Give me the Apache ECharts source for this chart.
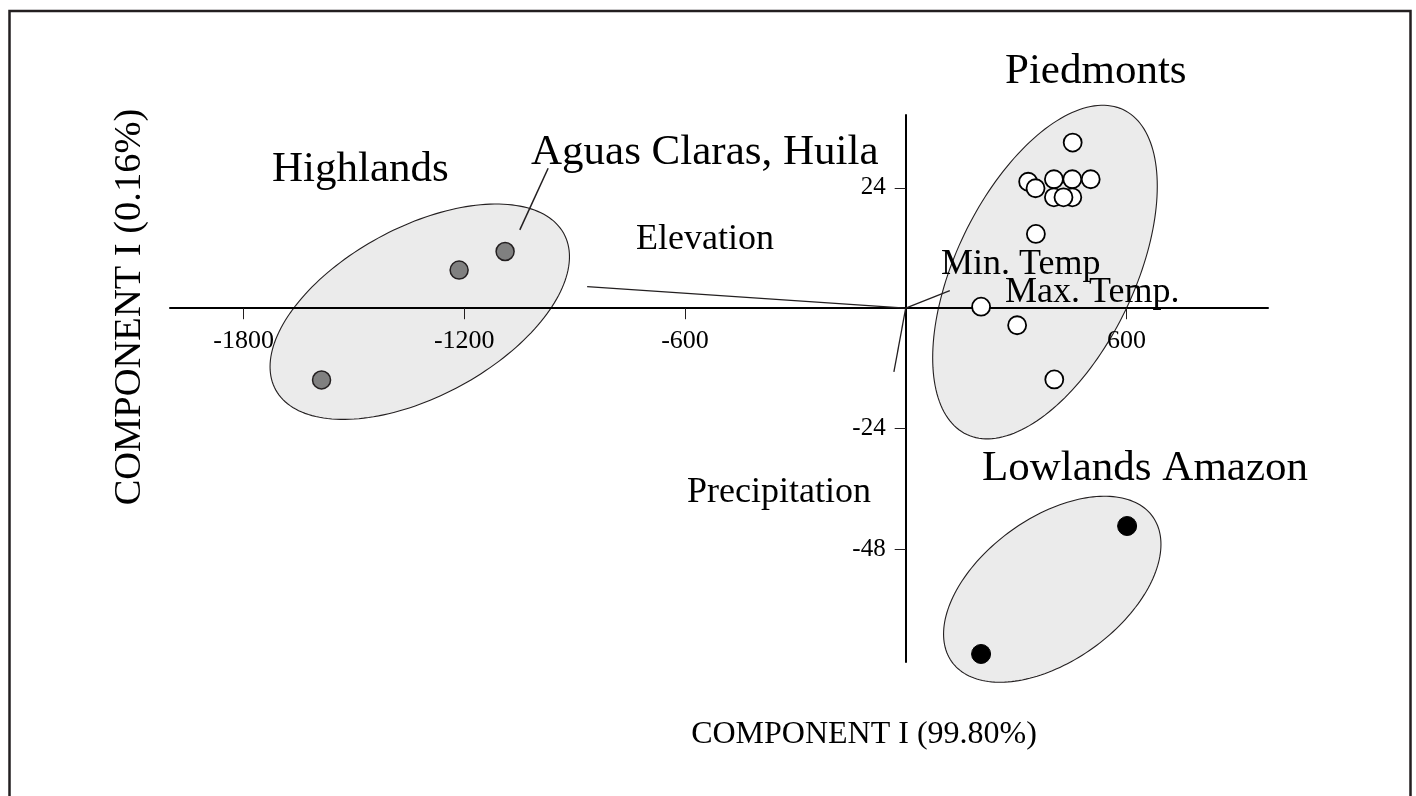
<!DOCTYPE html>
<html>
<head>
<meta charset="utf-8">
<script src="https://cdn.jsdelivr.net/npm/echarts@6/dist/echarts.min.js"></script>
<style>
html,body{margin:0;padding:0;background:#fff;}
#chart{width:1416px;height:796px;}
</style>
</head>
<body>
<div id="chart"></div>
<script>
// ---- data (PCA scores) ----
const xTicks = [-1800, -1200, -600, 600];
const yTicks = [24, -24, -48];
const highlands = [[-1588, -14.3], [-1214, 7.6], [-1089, 11.3]];
const piedmonts = [[454, 33.0], [333, 25.2], [353, 23.9], [403, 25.7], [453, 25.7], [503, 25.7],
                   [403, 22.1], [453, 22.1], [429, 22.1], [354, 14.8], [205, 0.3], [303, -3.4], [404, -14.2]];
const lowlands = [[602, -43.4], [205, -68.9]];
// group ellipses: [centerX, centerY, conjugate A (x, y), conjugate B (y)]
const ellipses = [[-1321, -0.7, 407, 10.96, 18.45], [378.7, 7.2, 305.3, 17.1, 28.5], [398.5, -56.0, 295.5, 8.93, 16.24]];
// biplot vectors from origin
const vectorNames = ['Elevation', 'Min. Temp', 'Precipitation'];
const vectorEnds = [[-866, 4.3], [120, 3.5], [-32, -12.7]];
const leader = [[-1049, 15.6], [-972, 27.9]];

const FONT = '"Liberation Serif", "Times New Roman", serif';
const INK = '#231f20';

const X_MIN = -2000, X_MAX = 985, Y_MIN = -70.5, Y_MAX = 38.5;
const G_LEFT = 170, G_RIGHT = 148, G_TOP = 115, G_BOTTOM = 134;
const W = 1416, H = 796;
const plotW = W - G_LEFT - G_RIGHT, plotH = H - G_TOP - G_BOTTOM;
// shift the axes so they cross at the origin
const xAxisOffset = -(plotH * (0 - Y_MIN) / (Y_MAX - Y_MIN));
const yAxisOffset = -(plotW * (0 - X_MIN) / (X_MAX - X_MIN));

const chart = echarts.init(document.getElementById('chart'), null, {renderer: 'canvas'});

const lineSeries = vectorEnds.map((end, i) => ({
  type: 'line', name: vectorNames[i], data: [[0, 0], end], symbol: 'none', silent: true, clip: false, z: 6,
  lineStyle: {color: INK, width: 1.3}
}));
lineSeries.push({
  type: 'line', name: 'leader', data: leader, symbol: 'none', silent: true, clip: false, z: 6,
  lineStyle: {color: INK, width: 1.5}
});

function text(str, x, y, size, align, rotation) {
  return {
    type: 'text', x: x, y: y, rotation: rotation || 0, z: 100,
    style: {text: str, fill: '#000', font: size + 'px ' + FONT, align: align || 'left', verticalAlign: 'middle'}
  };
}

chart.setOption({
  animation: false,
  backgroundColor: '#fff',
  grid: {left: G_LEFT, right: G_RIGHT, top: G_TOP, bottom: G_BOTTOM, containLabel: false, outerBoundsMode: 'none'},
  xAxis: {
    type: 'value', min: X_MIN, max: X_MAX, z: 5, position: 'bottom', offset: xAxisOffset,
    splitLine: {show: false},
    axisLine: {onZero: false, lineStyle: {color: '#000', width: 2}},
    axisTick: {show: true, length: 11, customValues: xTicks, lineStyle: {color: INK, width: 1}},
    axisLabel: {customValues: xTicks, margin: 20, color: '#000', fontFamily: FONT, fontSize: 26,
      formatter: v => String(v)}
  },
  yAxis: {
    type: 'value', min: Y_MIN, max: Y_MAX, z: 5, position: 'left', offset: yAxisOffset,
    splitLine: {show: false},
    axisLine: {onZero: false, lineStyle: {color: '#000', width: 2}},
    axisTick: {show: true, length: 11, customValues: yTicks, lineStyle: {color: INK, width: 1}},
    axisLabel: {customValues: yTicks, margin: 20, color: '#000', fontFamily: FONT, fontSize: 25,
      formatter: v => String(v)}
  },
  series: [
    {
      type: 'custom', name: 'groups', z: 1, clip: false, silent: true,
      data: ellipses,
      renderItem: function (params, api) {
        const cx = api.value(0), cy = api.value(1), ax = api.value(2), ay = api.value(3), by = api.value(4);
        const pts = [];
        for (let k = 0; k < 180; k++) {
          const t = k / 180 * Math.PI * 2;
          pts.push(api.coord([cx + ax * Math.cos(t), cy + ay * Math.cos(t) + by * Math.sin(t)]));
        }
        return {type: 'polygon', shape: {points: pts}, style: {fill: '#ebebeb', stroke: INK, lineWidth: 1.1}};
      }
    },
    ...lineSeries,
    {
      type: 'scatter', name: 'Highlands', data: highlands, symbolSize: 18, z: 10, clip: false,
      itemStyle: {color: '#808080', borderColor: INK, borderWidth: 1.5, opacity: 1}
    },
    {
      type: 'scatter', name: 'Piedmonts', data: piedmonts, symbolSize: 18, z: 10, clip: false,
      itemStyle: {color: '#fff', borderColor: '#000', borderWidth: 1.8, opacity: 1}
    },
    {
      type: 'scatter', name: 'Lowlands Amazon', data: lowlands, symbolSize: 19, z: 10, clip: false,
      itemStyle: {color: '#000', borderColor: '#000', borderWidth: 1, opacity: 1}
    }
  ],
  graphic: [
    {type: 'rect', shape: {x: 9.5, y: 11, width: 1401, height: 820}, style: {fill: 'none', stroke: INK, lineWidth: 2.5}, z: 100},
    text('Piedmonts', 1005, 72, 43),
    text('Aguas Claras, Huila', 531, 153, 43),
    text('Highlands', 272, 170, 43),
    text('Lowlands Amazon', 982, 469, 43),
    text('Elevation', 636, 240, 36),
    text('Min. Temp', 941, 265, 36),
    text('Max. Temp.', 1005, 293, 36),
    text('Precipitation', 687, 493, 36),
    text('COMPONENT I (99.80%)', 864, 735, 32, 'center'),
    text('COMPONENT I (0.16%)', 130, 307, 38.5, 'center', Math.PI / 2)
  ]
});
</script>
</body>
</html>
